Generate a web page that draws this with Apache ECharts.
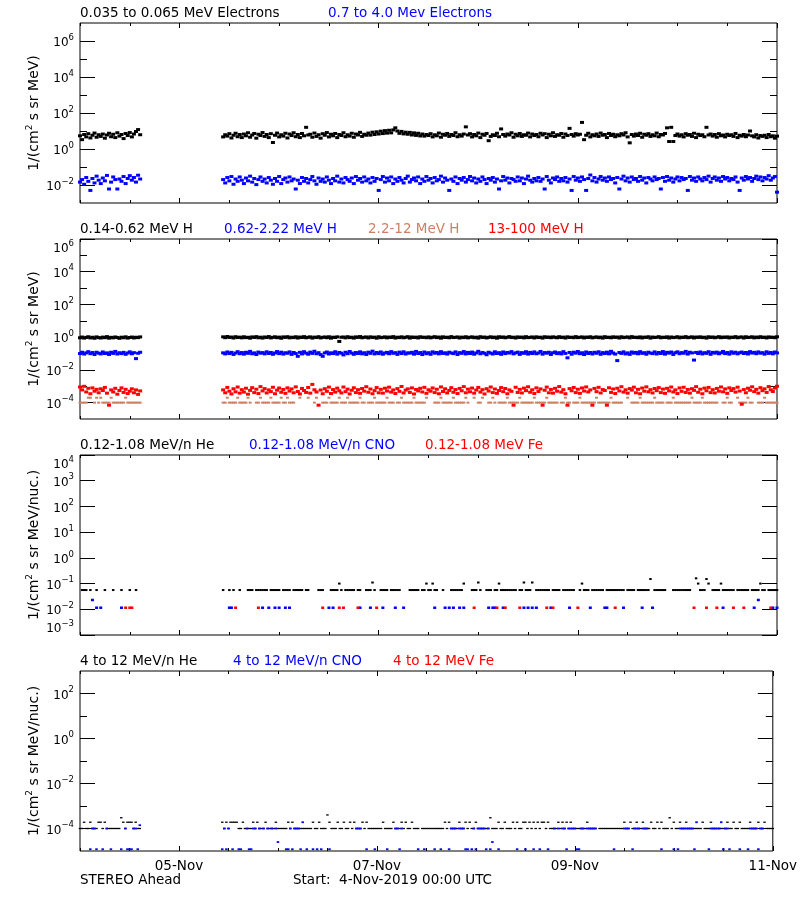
<!DOCTYPE html>
<html><head><meta charset="utf-8">
<script src="https://cdn.jsdelivr.net/npm/echarts@6/dist/echarts.min.js"></script>
<style>html,body{margin:0;padding:0;background:#fff}#c{width:800px;height:900px}</style>
</head><body><div id="c"></div>
<script>
// ---------- sampling grid (hours since 4-Nov-2019 00:00 UTC), two data segments with a gap ----------
const segmentStartHours = [0, 34.5];
const segmentCounts = [30, 268];
const cadenceHours = 0.5;

// ---------- x-axis ticks ----------
const dayTickHours = [24, 72, 120, 168];
const dayTickLabels = ['05-Nov', '07-Nov', '09-Nov', '11-Nov'];

// ---------- y-axis decades (log10) ----------
const p1Range = [-3, 7], p1Major = [-2, 0, 2, 4, 6], p1Minor = [-1, 1, 3, 5];
const p2Range = [-5, 6], p2Major = [-4, -2, 0, 2, 4, 6], p2Minor = [-3, -1, 1, 3, 5];
const p3Range = [-3, 4], p3Major = [-3, -2, -1, 0, 1, 2, 3, 4], p3Minor = [];
const p4Range = [-5, 3], p4Major = [-4, -2, 0, 2], p4Minor = [-3, -1, 1];

// ---------- panel 1: electrons ----------
const elecLow = [
5.4,3.3,6.4,4.7,7.1,4.1,5.8,7.7,4.5,6.2,
5.0,6.8,4.0,6.0,7.5,4.8,6.6,4.3,8.0,5.2,
6.4,3.8,7.3,5.6,8.2,4.7,6.8,9.4,12,6.2,
4.7,6.2,5.2,7.1,4.1,5.8,7.5,4.8,6.4,4.3,
6.8,5.4,8.0,4.5,6.0,7.3,4.0,6.6,5.6,8.2,
5.0,6.4,4.3,7.1,2.3,5.8,7.7,4.7,6.2,5.2,
7.5,4.1,6.8,5.6,8.0,4.8,6.4,4.3,7.3,5.4,
16,6.0,6.6,4.5,7.7,5.0,6.2,4.0,7.1,5.8,
8.2,4.7,6.6,5.4,7.3,4.3,6.4,5.6,8.0,4.8,
6.2,5.2,7.5,4.5,6.8,6.0,8.4,5.0,6.6,5.8,
7.7,5.9,8.6,6.4,9.0,6.8,9.8,7.2,10.5,7.6,
11,7.9,11.5,15,10,7.4,9.5,6.9,8.6,6.6,
8.4,6.0,7.9,5.7,7.5,5.3,6.8,5.2,6.4,5.6,
7.1,4.7,6.2,5.4,7.7,4.5,6.6,5.8,7.3,5.0,
6.4,5.6,8.0,4.8,6.2,5.2,6.8,17,6.0,7.1,
4.7,6.4,5.4,7.7,4.3,6.6,5.8,7.3,2.9,5.0,
6.2,5.6,7.5,4.8,13,6.4,5.2,6.8,6.0,8.0,
4.5,6.6,5.4,7.3,5.0,6.2,5.8,7.7,4.7,6.8,
5.6,6.4,4.8,7.5,6.0,7.1,4.3,6.6,5.4,8.0,
5.0,6.2,5.8,7.3,4.5,6.8,5.6,14,6.4,5.2,
7.1,6.0,6.6,30,3.3,5.8,7.5,4.7,6.2,5.4,
6.8,5.0,7.7,5.8,6.4,4.3,7.3,5.6,6.6,4.8,
6.2,5.4,7.1,6.0,8.0,4.7,2.2,6.4,5.2,6.8,
5.6,7.5,4.5,6.6,5.8,7.1,5.0,6.2,5.4,7.7,
4.8,6.4,6.0,7.3,15,2.6,16,2.6,5.6,6.8,
5.2,6.2,4.7,7.1,5.8,6.4,5.0,7.5,4.3,6.6,
5.6,6.2,4.8,16,6.0,6.8,5.2,6.4,4.5,7.1,
5.4,6.0,4.7,6.6,5.6,6.2,5.0,7.3,4.3,5.8,
5.2,6.4,4.8,6.0,10,5.4,4.7,6.2,4.1,5.6,
5.0,5.8,4.3,6.4,4.8,5.4,4.0,5.2];
const elecHigh = [
0.0145,0.020,0.011,0.026,0.016,0.005,0.023,0.013,0.031,0.0185,
0.012,0.0245,0.017,0.034,0.006,0.0145,0.028,0.020,0.006,0.0215,
0.016,0.0295,0.012,0.023,0.033,0.0185,0.026,0.0145,0.035,0.0215,
0.020,0.013,0.026,0.017,0.0295,0.011,0.0215,0.016,0.028,0.0185,
0.012,0.0245,0.017,0.031,0.0145,0.023,0.0105,0.020,0.028,0.016,
0.0215,0.013,0.026,0.0185,0.011,0.023,0.016,0.0295,0.012,0.020,
0.0245,0.0145,0.028,0.017,0.0215,0.006,0.0185,0.012,0.026,0.016,
0.023,0.013,0.020,0.0295,0.017,0.011,0.0245,0.016,0.0215,0.0145,
0.028,0.0185,0.012,0.023,0.017,0.031,0.0145,0.0215,0.013,0.026,
0.020,0.016,0.0245,0.012,0.0295,0.0185,0.023,0.0145,0.028,0.017,
0.0215,0.013,0.026,0.016,0.023,0.005,0.020,0.0295,0.0145,0.0245,
0.017,0.028,0.012,0.0215,0.016,0.026,0.0185,0.013,0.023,0.031,
0.0145,0.020,0.0245,0.017,0.028,0.012,0.0215,0.016,0.0295,0.0185,
0.023,0.013,0.026,0.017,0.020,0.031,0.0145,0.0245,0.0185,0.005,
0.0215,0.016,0.028,0.012,0.023,0.0185,0.026,0.0145,0.020,0.0295,
0.017,0.0245,0.013,0.0215,0.016,0.028,0.020,0.012,0.023,0.0185,
0.026,0.0145,0.0215,0.006,0.017,0.0295,0.0185,0.0245,0.013,0.023,
0.020,0.016,0.028,0.017,0.0245,0.012,0.0215,0.031,0.0185,0.0145,
0.023,0.017,0.026,0.016,0.0215,0.006,0.0295,0.0185,0.013,0.0245,
0.020,0.028,0.016,0.023,0.017,0.026,0.0145,0.0215,0.005,0.0295,
0.0185,0.0245,0.016,0.028,0.020,0.005,0.023,0.036,0.017,0.026,
0.0145,0.0215,0.0295,0.0185,0.0245,0.016,0.028,0.020,0.023,0.013,
0.026,0.006,0.0215,0.031,0.017,0.0245,0.0145,0.028,0.020,0.023,
0.016,0.0295,0.0185,0.0245,0.013,0.026,0.0215,0.017,0.028,0.020,
0.023,0.006,0.026,0.016,0.0295,0.0185,0.0245,0.0145,0.0215,0.028,
0.017,0.026,0.020,0.023,0.005,0.0295,0.0185,0.0245,0.016,0.028,
0.0215,0.017,0.026,0.020,0.031,0.0145,0.023,0.028,0.0185,0.0245,
0.016,0.0295,0.0215,0.026,0.017,0.023,0.020,0.028,0.0145,0.005,
0.0245,0.0185,0.0295,0.0215,0.026,0.016,0.023,0.031,0.020,0.028,
0.017,0.026,0.0215,0.033,0.0185,0.0245,0.0295,0.004];

// ---------- panel 2: protons ----------
const protonA = [
0.92,1.02,0.88,0.97,1.06,0.90,0.99,0.86,1.04,0.94,
0.89,1.01,0.93,1.08,0.87,0.98,0.91,1.03,0.95,0.85,
1.00,0.92,1.05,0.88,0.96,1.02,0.90,0.99,0.94,1.04,
1.05,0.93,1.10,0.97,1.02,0.89,1.07,0.95,1.01,0.91,
1.06,0.94,0.99,0.87,1.04,0.96,1.08,0.92,1.00,0.88,
1.03,0.95,1.09,0.90,0.98,1.05,0.93,1.01,0.86,1.04,
0.97,1.07,0.91,1.00,0.94,1.06,0.89,1.02,0.96,1.08,
0.92,0.99,1.04,0.88,1.01,0.95,1.07,0.90,0.98,1.03,
0.93,1.06,0.87,1.00,0.96,1.05,0.55,0.99,1.02,0.91,
1.07,0.94,1.00,0.88,1.04,0.97,1.09,0.92,0.99,1.03,
0.90,1.05,0.95,1.01,0.87,1.06,0.93,0.98,1.04,0.91,
1.02,0.96,1.08,0.89,1.00,0.94,1.05,0.92,0.99,1.07,
0.88,1.03,0.95,1.01,0.90,1.06,0.97,1.00,0.93,1.04,
0.91,0.99,1.07,0.94,1.02,0.87,1.05,0.96,1.00,0.92,
1.08,0.95,0.98,1.03,0.89,1.01,0.94,1.06,0.91,0.99,
1.04,0.93,1.00,0.88,1.07,0.96,1.02,0.90,0.98,1.05,
0.94,1.01,0.87,1.06,0.97,1.03,0.92,0.99,1.08,0.95,
1.00,0.89,1.04,0.96,1.02,0.91,1.07,0.94,0.98,1.03,
0.90,1.05,0.95,1.00,0.88,1.06,0.97,1.02,0.93,1.04,
0.99,0.92,1.07,0.95,1.01,0.89,1.05,0.96,1.00,0.93,
1.08,0.94,0.99,1.03,0.90,1.02,0.96,1.06,0.91,0.98,
1.04,0.93,1.01,0.88,1.07,0.95,1.00,0.92,1.05,0.97,
1.02,0.89,1.06,0.94,0.99,1.03,0.91,1.08,0.96,1.00,
0.93,1.04,0.90,1.01,0.97,1.06,0.88,1.02,0.95,0.99,
1.07,0.92,1.00,0.96,1.05,0.89,1.03,0.94,0.98,1.06,
0.91,1.01,0.95,1.08,0.93,0.99,1.04,0.90,1.02,0.97,
1.05,0.94,1.00,0.88,1.06,0.96,1.03,0.92,0.99,1.07,
0.93,1.02,0.97,1.04,0.90,1.01,0.95,1.08,0.92,1.00,
1.03,0.89,1.06,0.96,0.99,1.05,0.91,1.02,0.94,1.07,
0.95,1.01,0.90,1.04,0.97,1.00,0.93,1.06];
const protonB = [
0.10,0.12,0.093,0.11,0.13,0.098,0.115,0.087,0.12,0.105,
0.095,0.125,0.10,0.11,0.088,0.12,0.102,0.135,0.094,0.112,
0.099,0.118,0.09,0.108,0.127,0.097,0.113,0.049,0.104,0.12,
0.11,0.095,0.125,0.10,0.118,0.088,0.107,0.13,0.098,0.115,
0.092,0.12,0.103,0.136,0.097,0.11,0.087,0.123,0.105,0.114,
0.096,0.128,0.101,0.117,0.09,0.108,0.132,0.099,0.121,0.093,
0.112,0.104,0.126,0.089,0.116,0.1,0.068,0.119,0.095,0.13,
0.106,0.091,0.122,0.102,0.138,0.097,0.113,0.086,0.068,0.109,
0.124,0.094,0.111,0.1,0.129,0.092,0.117,0.105,0.083,0.12,
0.098,0.134,0.107,0.09,0.115,0.101,0.127,0.096,0.112,0.088,
0.121,0.103,0.14,0.095,0.116,0.099,0.125,0.091,0.108,0.118,
0.097,0.131,0.104,0.113,0.089,0.122,0.1,0.128,0.094,0.11,
0.106,0.119,0.092,0.135,0.101,0.115,0.087,0.124,0.098,0.113,
0.09,0.127,0.105,0.117,0.096,0.13,0.102,0.111,0.093,0.121,
0.108,0.099,0.126,0.088,0.114,0.103,0.132,0.095,0.118,0.1,
0.123,0.091,0.109,0.137,0.097,0.116,0.104,0.085,0.12,0.106,
0.094,0.128,0.101,0.113,0.09,0.125,0.099,0.117,0.107,0.131,
0.096,0.11,0.122,0.089,0.114,0.103,0.129,0.093,0.118,0.1,
0.126,0.097,0.108,0.134,0.092,0.115,0.105,0.12,0.088,0.111,
0.124,0.099,0.113,0.095,0.13,0.102,0.055,0.117,0.091,0.121,
0.106,0.133,0.098,0.112,0.087,0.125,0.101,0.116,0.094,0.119,
0.104,0.128,0.09,0.114,0.1,0.122,0.096,0.137,0.108,0.093,
0.037,0.115,0.102,0.127,0.095,0.11,0.089,0.124,0.105,0.118,
0.097,0.13,0.103,0.113,0.091,0.121,0.107,0.099,0.126,0.094,
0.116,0.101,0.132,0.092,0.119,0.106,0.124,0.088,0.112,0.127,
0.098,0.114,0.104,0.135,0.093,0.12,0.109,0.04,0.117,0.1,
0.125,0.095,0.113,0.103,0.129,0.09,0.118,0.106,0.122,0.097,
0.111,0.134,0.099,0.115,0.092,0.127,0.104,0.12,0.096,0.112,
0.123,0.101,0.116,0.094,0.131,0.107,0.119,0.098,0.126,0.105,
0.113,0.092,0.128,0.102,0.117,0.096,0.124,0.109];
const protonC = [
1e-4,1e-4,1e-4,1e-4,2e-4,2e-4,0,1e-4,2e-4,1e-4,
2e-4,1e-4,1e-4,1e-4,1e-4,2e-4,1e-4,1e-4,1e-4,1e-4,
1e-4,1e-4,2e-4,1e-4,1e-4,1e-4,1e-4,1e-4,1e-4,1e-4,
1e-4,1e-4,2e-4,1e-4,1e-4,1e-4,1e-4,2e-4,1e-4,1e-4,
1e-4,1e-4,2e-4,1e-4,0,0,1e-4,1e-4,2e-4,1e-4,
1e-4,1e-4,1e-4,2e-4,1e-4,1e-4,1e-4,1e-4,2e-4,1e-4,
1e-4,2e-4,1e-4,1e-4,1e-4,0,0,2e-4,0,0,
0,2e-4,0,0,1e-4,2e-4,0,0,1e-4,1e-4,
1e-4,2e-4,1e-4,1e-4,1e-4,1e-4,2e-4,1e-4,1e-4,1e-4,
2e-4,1e-4,1e-4,1e-4,1e-4,1e-4,2e-4,1e-4,1e-4,0,
1e-4,1e-4,1e-4,2e-4,1e-4,1e-4,1e-4,1e-4,1e-4,2e-4,
1e-4,1e-4,1e-4,0,1e-4,1e-4,2e-4,1e-4,1e-4,1e-4,
1e-4,1e-4,2e-4,1e-4,1e-4,1e-4,1e-4,1e-4,2e-4,0,
0,0,1e-4,1e-4,1e-4,2e-4,1e-4,1e-4,1e-4,1e-4,
1e-4,2e-4,1e-4,1e-4,1e-4,1e-4,1e-4,2e-4,1e-4,0,
0,2e-4,0,1e-4,1e-4,2e-4,0,0,1e-4,1e-4,
2e-4,1e-4,0,1e-4,1e-4,1e-4,1e-4,2e-4,1e-4,1e-4,
1e-4,1e-4,1e-4,2e-4,1e-4,1e-4,1e-4,1e-4,1e-4,1e-4,
2e-4,1e-4,1e-4,1e-4,1e-4,1e-4,2e-4,1e-4,1e-4,1e-4,
1e-4,1e-4,0,1e-4,1e-4,2e-4,1e-4,1e-4,0,1e-4,
1e-4,1e-4,2e-4,1e-4,1e-4,1e-4,1e-4,1e-4,1e-4,1e-4,
2e-4,1e-4,1e-4,1e-4,1e-4,1e-4,1e-4,2e-4,1e-4,1e-4,
1e-4,1e-4,1e-4,0,0,2e-4,0,1e-4,1e-4,1e-4,
1e-4,2e-4,1e-4,1e-4,1e-4,1e-4,1e-4,1e-4,2e-4,1e-4,
1e-4,1e-4,1e-4,0,1e-4,1e-4,1e-4,2e-4,1e-4,1e-4,
1e-4,1e-4,1e-4,1e-4,1e-4,1e-4,2e-4,1e-4,1e-4,1e-4,
1e-4,2e-4,1e-4,1e-4,1e-4,1e-4,1e-4,1e-4,1e-4,0,
0,1e-4,1e-4,2e-4,1e-4,1e-4,0,0,2e-4,1e-4,
1e-4,1e-4,1e-4,2e-4,1e-4,1e-4,0,0,1e-4,1e-4,
1e-4,2e-4,1e-4,1e-4,1e-4,1e-4,1e-4,1e-4];
const protonD = [
9e-4,6e-4,1e-3,4.5e-4,7.5e-4,3.5e-4,8e-4,5e-4,6.5e-4,4e-4,
7e-4,5.5e-4,8.5e-4,3.8e-4,7e-5,6e-4,4.5e-4,7.5e-4,3.3e-4,5.5e-4,
8e-4,4.2e-4,6.5e-4,3.6e-4,5e-4,7e-4,4e-4,6e-4,3.2e-4,5.2e-4,
6e-4,4e-4,8.5e-4,5e-4,3.4e-4,7e-4,4.6e-4,9e-4,3.8e-4,6.2e-4,
4.4e-4,7.6e-4,3.3e-4,5.6e-4,8.2e-4,4.1e-4,6.6e-4,3.6e-4,9.5e-4,5.2e-4,
7.2e-4,3.9e-4,6e-4,4.7e-4,8.7e-4,3.5e-4,5.8e-4,7.8e-4,4.3e-4,6.4e-4,
3.7e-4,8e-4,5.1e-4,6.9e-4,4e-4,9.2e-4,4.8e-4,3.4e-4,7.4e-4,5.5e-4,
4.2e-4,8.4e-4,3.8e-4,1.3e-3,6.1e-4,4.5e-4,7e-5,5.9e-4,3.5e-4,7.1e-4,
4.9e-4,8.9e-4,3.6e-4,6.3e-4,4.4e-4,7.7e-4,5.3e-4,3.9e-4,9e-4,4.7e-4,
6.7e-4,3.4e-4,5.7e-4,8.1e-4,4.1e-4,6.2e-4,3.7e-4,7.3e-4,5e-4,9.4e-4,
4.3e-4,6.8e-4,3.5e-4,5.4e-4,8.3e-4,4e-4,6.5e-4,3.8e-4,7.6e-4,5.1e-4,
8.8e-4,4.4e-4,6e-4,3.6e-4,7.2e-4,4.9e-4,9.7e-4,3.9e-4,5.8e-4,6.9e-4,
4.2e-4,8e-4,3.4e-4,6.4e-4,5.2e-4,7.5e-4,4.5e-4,8.6e-4,3.7e-4,6.1e-4,
5e-4,7.9e-4,4.1e-4,6.6e-4,3.5e-4,9.1e-4,4.8e-4,7e-4,3.9e-4,5.6e-4,
8.2e-4,4.3e-4,6.3e-4,3.6e-4,7.4e-4,5.3e-4,9.5e-4,4e-4,6.7e-4,4.6e-4,
7.8e-4,3.8e-4,5.9e-4,8.5e-4,4.4e-4,6.2e-4,3.4e-4,7.1e-4,5.1e-4,9e-4,
4.1e-4,6.8e-4,3.7e-4,5.5e-4,8.3e-4,4.7e-4,7.3e-4,3.5e-4,6e-4,4.9e-4,
7e-5,8.7e-4,4.2e-4,6.5e-4,3.9e-4,7.7e-4,5.4e-4,9.3e-4,4.3e-4,6.1e-4,
3.6e-4,8e-4,4.8e-4,6.9e-4,7e-5,5.7e-4,8.9e-4,4e-4,6.4e-4,3.8e-4,
7.5e-4,5e-4,9.6e-4,4.4e-4,6.2e-4,3.5e-4,7e-5,7.2e-4,5.3e-4,8.4e-4,
4.1e-4,6.6e-4,3.7e-4,7.9e-4,5.1e-4,9.1e-4,4.5e-4,6e-4,7e-5,7.4e-4,
4.7e-4,8.6e-4,3.9e-4,6.3e-4,5.5e-4,7e-5,8.1e-4,4.2e-4,6.8e-4,3.6e-4,
7.6e-4,5.2e-4,9.4e-4,4.4e-4,6.1e-4,3.8e-4,7.2e-4,5.8e-4,8.8e-4,4e-4,
6.5e-4,3.5e-4,7.8e-4,5e-4,9.2e-4,4.6e-4,6.2e-4,3.9e-4,7.3e-4,5.4e-4,
8.3e-4,4.1e-4,6.7e-4,3.7e-4,7.5e-4,5.2e-4,9e-4,4.5e-4,6e-4,3.6e-4,
7.9e-4,4.9e-4,8.7e-4,4.2e-4,6.4e-4,3.8e-4,7.1e-4,5.6e-4,9.5e-4,4.3e-4,
6.6e-4,3.5e-4,7.7e-4,5.3e-4,8.5e-4,4.1e-4,6.2e-4,3.9e-4,7.4e-4,5e-4,
9.1e-4,4.6e-4,6.9e-4,3.7e-4,8e-4,5.5e-4,7.2e-4,4.4e-4,8.8e-4,5.1e-4,
8e-5,6.3e-4,4e-4,7.6e-4,5.7e-4,9.3e-4,4.7e-4,6.5e-4,3.8e-4,8.2e-4,
5.4e-4,7e-4,4.2e-4,9.6e-4,6.1e-4,4.8e-4,7.8e-4,1e-3];

// ---------- panel 3: 0.12-1.08 MeV/n ions ----------
const heLow = [
0,0.056,0.056,0.056,0,0.056,0,0,0.056,0,
0,0,0.056,0,0,0,0.056,0,0,0,
0.056,0,0,0,0.056,0,0,0.056,0,0,
0.056,0,0,0.056,0,0.056,0,0,0.056,0,
0,0,0.056,0.056,0.056,0,0.056,0.056,0.056,0.056,
0.056,0.056,0,0.056,0.056,0.056,0.056,0.056,0,0.056,
0.056,0.056,0.056,0,0.056,0.056,0.056,0.056,0.056,0,
0.056,0.056,0,0,0,0,0.056,0.056,0.056,0,
0,0,0.056,0.056,0.056,0.056,0.1,0.056,0,0.056,
0.056,0.056,0.056,0.056,0,0.056,0.056,0,0,0.056,
0.056,0.056,0.11,0.056,0,0,0.056,0.056,0.056,0.056,
0,0.056,0.056,0.056,0.056,0.056,0,0,0,0,
0.056,0.056,0.056,0.056,0.056,0,0.056,0.056,0.1,0.056,
0.056,0.1,0.056,0.056,0,0,0.056,0,0,0,
0.056,0.056,0.056,0.056,0.056,0.056,0.1,0,0,0,
0.056,0.056,0.056,0.11,0.056,0,0,0.056,0.056,0.056,
0,0.056,0.056,0.1,0.056,0.056,0.056,0.056,0.056,0.056,
0.056,0.056,0,0.056,0.056,0.11,0.056,0.056,0.056,0.11,
0,0.056,0.056,0.056,0.056,0.056,0.056,0.056,0,0.056,
0.056,0.056,0.056,0,0.056,0.056,0.056,0.056,0.056,0.056,
0,0,0.056,0.1,0.056,0.056,0.056,0,0.056,0.056,
0.056,0.056,0.056,0.056,0,0.056,0.056,0.056,0.056,0.056,
0.056,0.056,0.056,0.056,0,0.056,0.056,0.056,0.056,0,
0.056,0.056,0.056,0.056,0.056,0.056,0.15,0,0.056,0.056,
0.056,0.056,0.056,0.056,0,0,0,0.056,0.056,0.056,
0.056,0.056,0.056,0.056,0.056,0.056,0,0,0.16,0.1,
0.056,0.056,0.056,0.15,0.1,0,0.056,0.056,0.056,0.056,
0.1,0.056,0.056,0.056,0.056,0.056,0.056,0,0.056,0.056,
0.056,0.056,0.056,0.056,0,0.056,0.056,0.056,0.056,0.1,
0.056,0.056,0,0.056,0.056,0.056,0.056,0.056];
// [hours, flux]
const cnoLow = [[3,0.023],[4,0.0115],[5,0.0115],[10,0.0115],[36,0.0115],[36.5,0.0115],[44,0.0115],[45.5,0.0115],
[47,0.0115],[48,0.0115],[49.5,0.0115],[50.5,0.0115],[60,0.0115],[61,0.0115],[67.5,0.0115],[70,0.0115],[73,0.0115],
[76,0.0115],[78,0.0115],[85.5,0.0115],[88,0.0115],[89,0.0115],[90,0.0115],[91.5,0.0115],[92.5,0.0115],[98.5,0.0115],
[99.5,0.0115],[100,0.0115],[102,0.0115],[107,0.0115],[108,0.0115],[109,0.0115],[110,0.0115],[113.5,0.0115],[118,0.0115],
[123,0.0115],[126.5,0.0115],[127,0.0115],[131,0.0115],[135.5,0.0115],[138,0.0115],[155,0.0115],[162.5,0.0115],
[163.5,0.023],[167,0.0115],[168,0.0115]];
const feLow = [[11,0.0115],[12,0.0115],[12.5,0.0115],[37.5,0.0115],[43,0.0115],[58.5,0.0115],[62.5,0.0115],[63.5,0.0115],
[67,0.0115],[71.5,0.0115],[95,0.0115],[100.5,0.0115],[102.5,0.0115],[106,0.0115],[112.5,0.0115],[114,0.0115],[120,0.0115],
[129,0.0115],[148,0.0115],[151,0.0115],[153.5,0.0115],[157.5,0.0115],[160,0.0115],[166.5,0.0115]];

// ---------- panel 4: 4-12 MeV/n ions ----------
const heHigh = [
1e-4,1e-4,1.9e-4,1e-4,1e-4,1.9e-4,1e-4,1e-4,1e-4,1.9e-4,
1.9e-4,1e-4,1.9e-4,1e-4,1e-4,1e-4,1e-4,1e-4,1e-4,1e-4,
3e-4,1.9e-4,1e-4,1.9e-4,1.9e-4,1.9e-4,1e-4,1.9e-4,1e-4,1e-4,
1.9e-4,1e-4,1.9e-4,1e-4,1.9e-4,1.9e-4,1.9e-4,1.9e-4,1e-4,1e-4,
1.9e-4,1e-4,1e-4,1e-4,1e-4,1.9e-4,1e-4,1.9e-4,1e-4,1e-4,
1e-4,1.9e-4,1e-4,1e-4,1e-4,1e-4,1.9e-4,1e-4,1e-4,1e-4,
1e-4,1e-4,1.9e-4,1e-4,1.9e-4,1e-4,1e-4,1e-4,1e-4,1e-4,
1e-4,1e-4,1e-4,1e-4,1.9e-4,1e-4,1e-4,1.9e-4,1e-4,1e-4,
1e-4,4e-4,1.9e-4,1e-4,1e-4,1e-4,1.9e-4,1e-4,1e-4,1.9e-4,
1e-4,1e-4,1.9e-4,1e-4,1.9e-4,1e-4,1e-4,1e-4,1.9e-4,1e-4,
1.9e-4,1e-4,1e-4,1e-4,1e-4,1e-4,1e-4,1e-4,1.9e-4,1e-4,
1e-4,1e-4,1e-4,1.9e-4,1e-4,1e-4,1e-4,1.9e-4,1e-4,1.9e-4,
1e-4,1e-4,1.9e-4,1e-4,1e-4,1e-4,0,1e-4,1e-4,1e-4,
1e-4,1e-4,1e-4,1e-4,1e-4,1e-4,1e-4,1e-4,1.9e-4,1e-4,
1.9e-4,1e-4,1e-4,1e-4,1e-4,1.9e-4,1e-4,1e-4,1.9e-4,1e-4,
1.9e-4,1e-4,1e-4,1.9e-4,1e-4,1e-4,1e-4,1e-4,1e-4,1e-4,
3e-4,1e-4,1e-4,1e-4,1.9e-4,1e-4,1e-4,1.9e-4,1e-4,1e-4,
1e-4,1.9e-4,1e-4,1.9e-4,1e-4,1e-4,1.9e-4,1.9e-4,1e-4,1.9e-4,
1e-4,1.9e-4,1e-4,1.9e-4,1e-4,1.9e-4,1.9e-4,1e-4,1.9e-4,1e-4,
1e-4,1e-4,1e-4,1.9e-4,1e-4,1.9e-4,1e-4,1.9e-4,1e-4,1.9e-4,
1e-4,1e-4,1e-4,1e-4,1e-4,1e-4,1e-4,1.9e-4,1e-4,1e-4,
1e-4,1e-4,0,1e-4,1e-4,1e-4,1e-4,1e-4,1e-4,1e-4,
1e-4,1e-4,1e-4,1e-4,1e-4,1.9e-4,1e-4,1e-4,1.9e-4,1e-4,
1e-4,1.9e-4,1e-4,1e-4,1.9e-4,1e-4,1e-4,1e-4,1.9e-4,1e-4,
1e-4,1.9e-4,1e-4,1.9e-4,1e-4,1e-4,1e-4,3e-4,1e-4,1.9e-4,
1e-4,1e-4,1.9e-4,1e-4,1e-4,1.9e-4,1e-4,1e-4,1e-4,1e-4,
1e-4,1e-4,1e-4,1.9e-4,1e-4,1e-4,1e-4,1.9e-4,1e-4,1e-4,
0,1e-4,1e-4,1e-4,1e-4,1.9e-4,1e-4,1e-4,1.9e-4,1e-4,
1e-4,1.9e-4,1e-4,1e-4,1e-4,1e-4,1.9e-4,1e-4,1e-4,1e-4,
1.9e-4,1e-4,1e-4,1.9e-4,1e-4,1e-4,1e-4,1e-4];
const cnoHigh = [
0,0,0,0,0,1.2e-5,1e-4,1e-4,1.2e-5,0,
0,1.2e-5,0,1e-4,0,1.2e-5,0,0,0,0,
1.2e-5,0,1e-4,1.2e-5,1.2e-5,1.2e-5,1e-4,1e-4,1.2e-5,1.4e-4,
1.2e-5,1e-4,1.2e-5,1e-4,0,1.2e-5,0,0,1.2e-5,1.2e-5,
0,0,1e-4,1.2e-5,1.2e-5,1e-4,1e-4,0,1e-4,0,
1e-4,0,1e-4,0,1e-4,0,1e-4,2.5e-5,0,0,
0,1.2e-5,1.2e-5,1e-4,1.2e-5,1e-4,1e-4,1e-4,1.2e-5,1.9e-4,
0,1.2e-5,0,0,1.2e-5,0,1.2e-5,0,1.2e-5,0,
0,0,1.2e-5,0,0,0,0,0,0,0,
0,0,0,0,0,1e-4,1e-4,1e-4,0,0,
1.2e-5,0,0,0,1.2e-5,0,0,0,0,0,
1.2e-5,0,0,0,1e-4,1e-4,1.2e-5,1e-4,0,0,
0,0,0,0,0,1.2e-5,0,0,1.2e-5,0,
0,0,0,1.2e-5,0,0,1.2e-5,0,0,0,
1.2e-5,1e-4,1e-4,1e-4,0,1e-4,1e-4,1e-4,1.2e-5,1.2e-5,
0,1.2e-5,1e-4,1.2e-5,1e-4,1e-4,1e-4,1e-4,1.2e-5,1e-4,
1.2e-5,2.5e-5,0,0,1.2e-5,0,0,0,0,0,
0,0,0,1.2e-5,0,0,0,1.2e-5,0,0,
0,1.2e-5,0,0,1.2e-5,0,0,0,1.2e-5,0,
0,1e-4,0,1e-4,0,1e-4,1e-4,1.2e-5,1e-4,1e-4,
1e-4,1e-4,1.2e-5,1.2e-5,1e-4,1e-4,0,1e-4,1e-4,1e-4,
1e-4,1e-4,0,0,0,0,0,0,0,0,
1.2e-5,0,0,0,0,1e-4,1e-4,1e-4,0,1.2e-5,
1e-4,1e-4,1e-4,0,1e-4,1e-4,1e-4,0,0,0,
0,0,0,1.2e-5,0,0,0,0,0,1.2e-5,
0,1.2e-5,1e-4,1e-4,1e-4,1e-4,1e-4,1e-4,1e-4,1.2e-5,
1.9e-4,0,0,0,0,0,1.2e-5,1e-4,1e-4,1e-4,
1e-4,1e-4,1.9e-4,1.2e-5,1e-4,1e-4,1.2e-5,0,0,0,
0,1.2e-5,0,0,0,1.2e-5,1e-4,1e-4,1e-4,1e-4,
1.2e-5,1e-4,1e-4,0,0,0,0,0];
const feHigh = []; // no Fe points above the plotted range

// ---------- styling ----------
const FONT = 'DejaVu Sans';
const BLACK = '#000000', BLUE = '#0000ff', RED = '#ff0000', BROWN = '#cd8162';

const timeHours = [];
segmentStartHours.forEach((s, k) => { for (let j = 0; j < segmentCounts[k]; j++) timeHours.push(s + j * cadenceHours); });

function gridPts(vals) {
  const out = [];
  vals.forEach((v, i) => { if (v > 0 && timeHours[i] !== undefined) out.push([timeHours[i], Math.log10(v)]); });
  return out;
}
function pairPts(pairs) { return pairs.filter(p => p[1] > 0).map(p => [p[0], Math.log10(p[1])]); }

const gridTops = [23, 239, 455, 671];
const ranges = [p1Range, p2Range, p3Range, p4Range];
const majors = [p1Major, p2Major, p3Major, p4Major];
const minors = [p1Minor, p2Minor, p3Minor, p4Minor];
const edgeTop = [false, true, true, false];
const edgeBottom = [false, false, true, false];
const yNames = ['{a|1/(cm}{s|2}{a| s sr MeV)}', '{a|1/(cm}{s|2}{a| s sr MeV)}',
                '{a|1/(cm}{s|2}{a| s sr MeV/nuc.)}', '{a|1/(cm}{s|2}{a| s sr MeV/nuc.)}'];

function expLabel(v) {
  const e = Math.round(v);
  const s = e < 0 ? '\u2212' + (-e) : String(e);
  return '{b|10}{s|' + s + '}';
}

const grids = [], xAxes = [], yAxes = [];
gridTops.forEach((top, p) => {
  grids.push({ left: 80, right: 23, top: top, height: 180, show: true, borderColor: '#000', borderWidth: 1, backgroundColor: 'transparent' });
  ['bottom', 'top'].forEach(pos => {
    xAxes.push({
      type: 'value', gridIndex: p, position: pos, min: 0, max: 168,
      axisLine: { show: false, onZero: false }, splitLine: { show: false },
      axisTick: { show: true, inside: true, length: 5, customValues: dayTickHours, lineStyle: { color: '#000', width: 1 } },
      axisLabel: (pos === 'bottom' && p === 3) ? {
        show: true, customValues: dayTickHours, margin: 8, color: '#000', fontFamily: FONT, fontSize: 13.5,
        formatter: v => dayTickLabels[dayTickHours.indexOf(v)] || ''
      } : { show: false }
    });
    xAxes.push({
      type: 'value', gridIndex: p, position: pos, min: 0, max: 168, interval: 12,
      axisLine: { show: false, onZero: false }, splitLine: { show: false },
      axisTick: { show: true, inside: true, length: 3, lineStyle: { color: '#000', width: 1 } },
      axisLabel: { show: false }
    });
  });
  ['left', 'right'].forEach(pos => {
    const lab = {
      show: true, customValues: majors[p], margin: 6, formatter: expLabel,
      rich: {
        b: { fontFamily: FONT, fontSize: 12, color: '#000', lineHeight: 16, verticalAlign: 'bottom' },
        s: { fontFamily: FONT, fontSize: 8.5, color: '#000', lineHeight: 8, verticalAlign: 'top' }
      }
    };
    if (edgeTop[p]) lab.verticalAlignMaxLabel = 'top';
    if (edgeBottom[p]) lab.verticalAlignMinLabel = 'bottom';
    const major = {
      type: 'value', gridIndex: p, position: pos, min: ranges[p][0], max: ranges[p][1],
      axisLine: { show: false, onZero: false }, splitLine: { show: false },
      axisTick: { show: true, inside: true, length: 15, customValues: majors[p], lineStyle: { color: '#000', width: 1 } },
      axisLabel: pos === 'left' ? lab : { show: false }
    };
    if (pos === 'left') {
      major.name = yNames[p];
      major.nameLocation = 'middle';
      major.nameGap = 39;
      major.nameMoveOverlap = false;
      major.nameRotate = 90;
      major.nameTextStyle = {
        rich: {
          a: { fontFamily: FONT, fontSize: 14, color: '#000', lineHeight: 16, verticalAlign: 'bottom' },
          s: { fontFamily: FONT, fontSize: 9, color: '#000', lineHeight: 8, verticalAlign: 'top' }
        }
      };
    }
    yAxes.push(major);
    yAxes.push({
      type: 'value', gridIndex: p, position: pos, min: ranges[p][0], max: ranges[p][1],
      axisLine: { show: false, onZero: false }, splitLine: { show: false },
      axisTick: { show: minors[p].length > 0, inside: true, length: 7, customValues: minors[p], lineStyle: { color: '#000', width: 1 } },
      axisLabel: { show: false }
    });
  });
});

function sc(name, data, p, color, size) {
  return { type: 'scatter', name, data, xAxisIndex: p * 4, yAxisIndex: p * 4, symbol: 'rect', symbolSize: size,
           itemStyle: { color: color, opacity: 1 }, silent: true, animation: false, clip: true };
}

const series = [
  sc('0.035 to 0.065 MeV Electrons', gridPts(elecLow), 0, BLACK, [4, 3]),
  sc('0.7 to 4.0 Mev Electrons', gridPts(elecHigh), 0, BLUE, [4, 3]),
  sc('0.14-0.62 MeV H', gridPts(protonA), 1, BLACK, [4, 3]),
  sc('0.62-2.22 MeV H', gridPts(protonB), 1, BLUE, [4, 3]),
  sc('2.2-12 MeV H', gridPts(protonC), 1, BROWN, [3, 2]),
  sc('13-100 MeV H', gridPts(protonD), 1, RED, [4, 3]),
  sc('0.12-1.08 MeV/n He', gridPts(heLow), 2, BLACK, [2.5, 2]),
  sc('0.12-1.08 MeV/n CNO', pairPts(cnoLow), 2, BLUE, [3, 2.5]),
  sc('0.12-1.08 MeV Fe', pairPts(feLow), 2, RED, [3, 2.5]),
  sc('4 to 12 MeV/n He', gridPts(heHigh), 3, BLACK, [2.5, 1.3]),
  sc('4 to 12 MeV/n CNO', gridPts(cnoHigh), 3, BLUE, [2.5, 1.8]),
  sc('4 to 12 MeV Fe', pairPts(feHigh), 3, RED, [2.5, 2])
];

const titleRows = [
  [['0.035 to 0.065 MeV Electrons', 80, BLACK], ['0.7 to 4.0 Mev Electrons', 328, BLUE]],
  [['0.14-0.62 MeV H', 80, BLACK], ['0.62-2.22 MeV H', 224, BLUE], ['2.2-12 MeV H', 368, BROWN], ['13-100 MeV H', 488, RED]],
  [['0.12-1.08 MeV/n He', 80, BLACK], ['0.12-1.08 MeV/n CNO', 249, BLUE], ['0.12-1.08 MeV Fe', 425, RED]],
  [['4 to 12 MeV/n He', 80, BLACK], ['4 to 12 MeV/n CNO', 233, BLUE], ['4 to 12 MeV Fe', 393, RED]]
];
const graphics = [];
titleRows.forEach((row, p) => {
  row.forEach(t => graphics.push({
    type: 'text', x: t[1], y: gridTops[p] - 10, silent: true,
    style: { text: t[0], fill: t[2], font: '13.5px "' + FONT + '"', verticalAlign: 'middle', align: 'left' }
  }));
});
graphics.push({ type: 'text', x: 80, y: 880.5, silent: true,
  style: { text: 'STEREO Ahead', fill: '#000', font: '13.5px "' + FONT + '"', verticalAlign: 'middle', align: 'left' } });
graphics.push({ type: 'text', x: 293, y: 880.5, silent: true,
  style: { text: 'Start:  4-Nov-2019 00:00 UTC', fill: '#000', font: '13.5px "' + FONT + '"', verticalAlign: 'middle', align: 'left' } });

const chart = echarts.init(document.getElementById('c'), null, { renderer: 'canvas' });
chart.setOption({
  backgroundColor: '#ffffff',
  animation: false,
  grid: grids,
  xAxis: xAxes,
  yAxis: yAxes,
  series: series,
  graphic: graphics
});
</script>
</body></html>
